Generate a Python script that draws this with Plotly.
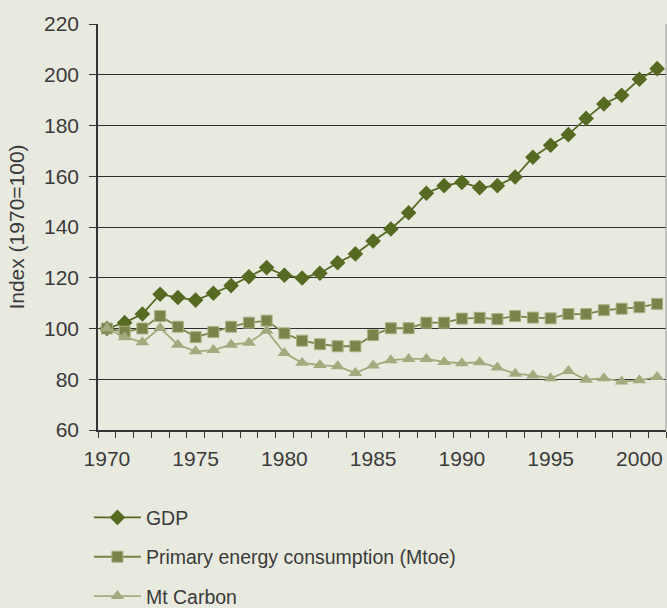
import plotly.graph_objects as go

years = list(range(1970, 2002))
gdp = [100.0, 102.3, 105.7, 113.5, 112.2, 111.2, 113.9, 116.9, 120.4, 124.0,
       121.0, 119.9, 121.8, 125.9, 129.4, 134.5, 139.2, 145.6, 153.3, 156.3,
       157.6, 155.5, 156.3, 159.7, 167.5, 172.2, 176.4, 182.8, 188.5, 191.9,
       198.2, 202.4]
energy = [100.0, 98.7, 100.0, 104.9, 100.7, 96.6, 98.6, 100.7, 102.3, 103.1,
          98.1, 95.2, 93.8, 93.0, 93.0, 97.4, 100.1, 100.1, 102.3, 102.3,
          103.9, 104.2, 103.7, 104.9, 104.3, 104.0, 105.7, 105.7, 107.2, 107.8,
          108.4, 109.7]
carbon = [100.0, 96.6, 94.6, 100.2, 93.6, 91.0, 91.5, 93.6, 94.4, 99.1,
          90.3, 86.5, 85.6, 85.1, 82.5, 85.4, 87.5, 88.0, 88.0, 86.8,
          86.3, 86.7, 84.6, 82.2, 81.5, 80.4, 83.3, 79.8, 80.4, 79.1,
          79.6, 80.9]
x_tick_labels = [1970, 1975, 1980, 1985, 1990, 1995, 2000]
y_ticks = [60, 80, 100, 120, 140, 160, 180, 200, 220]

BG = "#e9eadf"
TXT = "#3a3a3a"
FONT = "Liberation Sans, Arial, sans-serif"

fig = go.Figure()
fig.add_trace(go.Scatter(
    x=years, y=gdp, name="GDP", mode="lines+markers", legendgroup="a",
    line=dict(color="#566a22", width=1.8),
    marker=dict(symbol="diamond", size=12, color="#566a22"),
))
fig.add_trace(go.Scatter(
    x=years, y=energy, name="Primary energy consumption (Mtoe)", mode="lines+markers",
    legendgroup="b",
    line=dict(color="#7a844a", width=1.8),
    marker=dict(symbol="square", size=11, color="#7a844a",
                line=dict(color="#a9b083", width=1)),
))
fig.add_trace(go.Scatter(
    x=years, y=carbon, name="Mt Carbon", mode="lines+markers", legendgroup="c",
    line=dict(color="#a4aa7d", width=1.8),
    marker=dict(symbol="triangle-up", size=12, color="#a4aa7d"),
))

fig.add_shape(type="line", xref="paper", yref="paper", x0=1, x1=1, y0=0, y1=1,
              line=dict(color="#9a9a9a", width=1))

fig.update_layout(
    width=667, height=608,
    margin=dict(l=98, r=1, t=24, b=178, autoexpand=False),
    paper_bgcolor=BG, plot_bgcolor=BG,
    font=dict(family=FONT, size=19.5, color=TXT),
    showlegend=True,
    legend=dict(
        orientation="v", x=-0.016, xanchor="left", y=-0.168, yanchor="top",
        bgcolor="rgba(0,0,0,0)", font=dict(size=19.5, color=TXT),
        tracegroupgap=11, traceorder="grouped", itemwidth=47,
    ),
    xaxis=dict(
        range=[1969.5, 2001.5], tickvals=x_tick_labels, ticks="",
        ticklabelstandoff=9,
        showgrid=False, zeroline=False, showline=True, linecolor="#333333", linewidth=1.5,
        minor=dict(tick0=1969.5, dtick=1, ticks="outside", ticklen=6,
                   tickcolor="#333333", tickwidth=1, showgrid=False),
        tickfont=dict(size=21, color=TXT),
    ),
    yaxis=dict(
        range=[60, 220], tickvals=y_ticks, ticks="outside", ticklen=7,
        tickcolor="#333333", tickwidth=1.2,
        showgrid=True, gridcolor="#2e2e2e", gridwidth=1.2, zeroline=False,
        showline=True, linecolor="#333333", linewidth=1.5,
        ticklabelstandoff=6,
        title=dict(text="Index (1970=100)", font=dict(size=21, color=TXT), standoff=14),
        tickfont=dict(size=21, color=TXT),
    ),
)

fig.write_html("out.html", config={"displayModeBar": False},
               post_script="document.body.style.margin='0px';document.body.style.background='#e9eadf';")
